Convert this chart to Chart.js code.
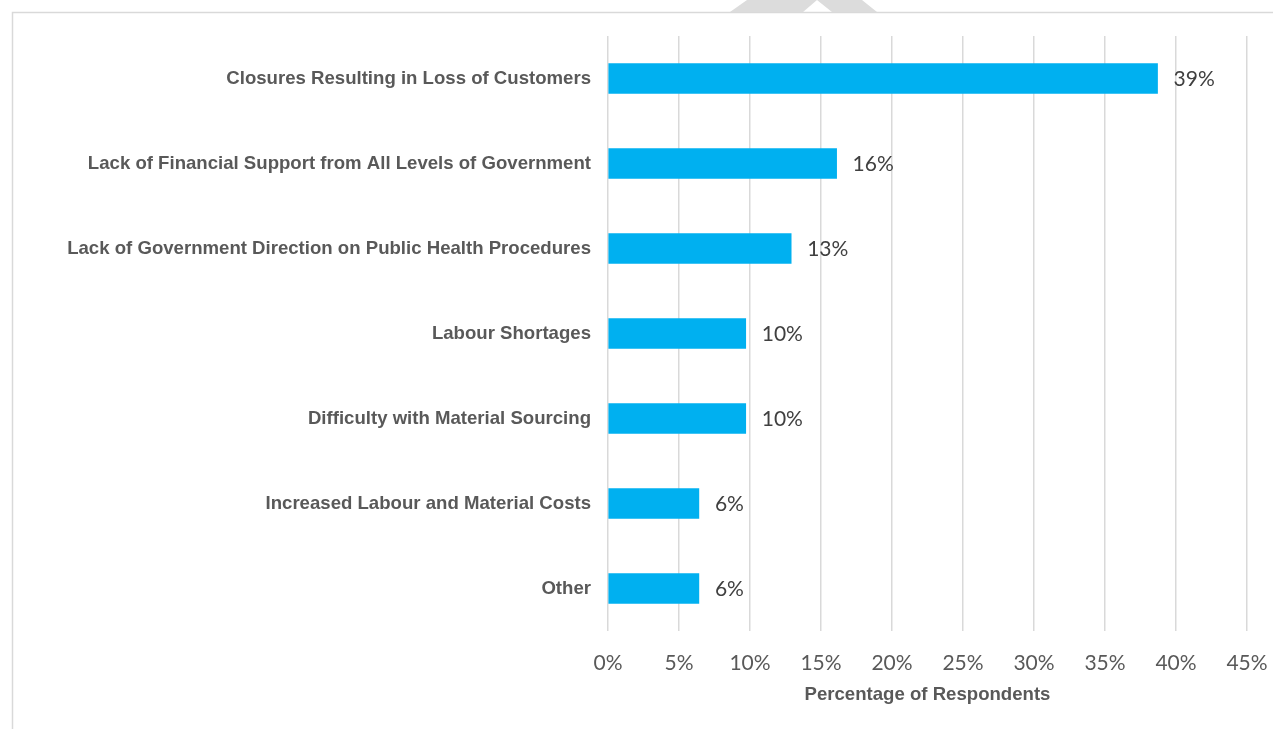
<!DOCTYPE html>
<html>
<head>
<meta charset="utf-8">
<title>Challenges</title>
<script src="https://cdn.jsdelivr.net/npm/chart.js@4.4.1/dist/chart.umd.min.js"></script>
<style>
  html, body { margin: 0; padding: 0; background: #fff; }
  #wrap { width: 1273px; height: 729px; position: relative; }
</style>
</head>
<body>
<div id="wrap"><canvas id="challengeChart"></canvas></div>
<script>
const categories = [
  "Closures Resulting in Loss of Customers",
  "Lack of Financial Support from All Levels of Government",
  "Lack of Government Direction on Public Health Procedures",
  "Labour Shortages",
  "Difficulty with Material Sourcing",
  "Increased Labour and Material Costs",
  "Other"
];
const respondentShare = [38.7, 16.1, 12.9, 9.7, 9.7, 6.4, 6.4];
const tickValues = [0, 5, 10, 15, 20, 25, 30, 35, 40, 45];

const BAR_COLOR = "#00B0F0";
const TEXT_GREY = "#595959";
const LINE_GREY = "#d9d9d9";

// outer frame lines plus the grey mark at the top edge
const framePlugin = {
  id: "frame",
  beforeDraw(chart) {
    const ctx = chart.ctx;
    ctx.save();
    ctx.fillStyle = "#fff";
    ctx.fillRect(0, 0, chart.width, chart.height);
    ctx.fillStyle = "#dcdcdc";
    ctx.beginPath();
    ctx.moveTo(730, 12); ctx.lineTo(747, 0); ctx.lineTo(862, 0); ctx.lineTo(877, 12);
    ctx.lineTo(832, 12); ctx.lineTo(817, 0); ctx.lineTo(803, 12);
    ctx.closePath();
    ctx.fill();
    ctx.strokeStyle = LINE_GREY;
    ctx.lineWidth = 1.5;
    ctx.beginPath();
    ctx.moveTo(12.5, chart.height); ctx.lineTo(12.5, 12.5); ctx.lineTo(chart.width, 12.5);
    ctx.stroke();
    ctx.restore();
  }
};

// percentage text just past the end of each bar
const valueLabels = {
  id: "valueLabels",
  afterDatasetsDraw(chart) {
    const ctx = chart.ctx;
    const meta = chart.getDatasetMeta(0);
    ctx.save();
    ctx.font = "21px Lato";
    ctx.fillStyle = "#404040";
    ctx.textAlign = "left";
    ctx.textBaseline = "middle";
    meta.data.forEach((bar, i) => {
      ctx.fillText(Math.round(respondentShare[i]) + "%", bar.x + 16, bar.y + 1);
    });
    ctx.restore();
  }
};

const ctx = document.getElementById("challengeChart").getContext("2d");
new Chart(ctx, {
  type: "bar",
  data: {
    labels: categories,
    datasets: [{
      data: respondentShare,
      backgroundColor: BAR_COLOR,
      borderWidth: 0,
      barThickness: 30
    }]
  },
  options: {
    indexAxis: "y",
    responsive: true,
    maintainAspectRatio: false,
    animation: false,
    layout: { padding: { top: 36, right: 26, bottom: 0, left: 0 } },
    plugins: {
      legend: { display: false },
      tooltip: { enabled: false }
    },
    scales: {
      x: {
        min: 0,
        max: 45,
        afterFit: (scale) => {
          scale.height = 98;
          scale.paddingLeft = 0;
          scale.paddingRight = 0;
        },
        afterBuildTicks: (scale) => { scale.ticks = tickValues.map(v => ({ value: v })); },
        grid: { color: LINE_GREY, lineWidth: 1.5, drawTicks: false },
        border: { display: false },
        ticks: {
          padding: 20,
          color: TEXT_GREY,
          font: { family: "Lato", size: 21 },
          callback: (v) => v + "%"
        },
        title: {
          display: true,
          text: "Percentage of Respondents",
          color: TEXT_GREY,
          font: { family: "Liberation Sans", size: 18.6, weight: "bold" },
          padding: { top: 0, bottom: 23 }
        }
      },
      y: {
        afterFit: (scale) => { scale.width = 608; },
        grid: { display: false, drawTicks: false },
        border: { display: false },
        ticks: {
          padding: 17,
          color: TEXT_GREY,
          font: { family: "Liberation Sans", size: 18.6, weight: "bold" }
        }
      }
    }
  },
  plugins: [framePlugin, valueLabels]
});
</script>
</body>
</html>
